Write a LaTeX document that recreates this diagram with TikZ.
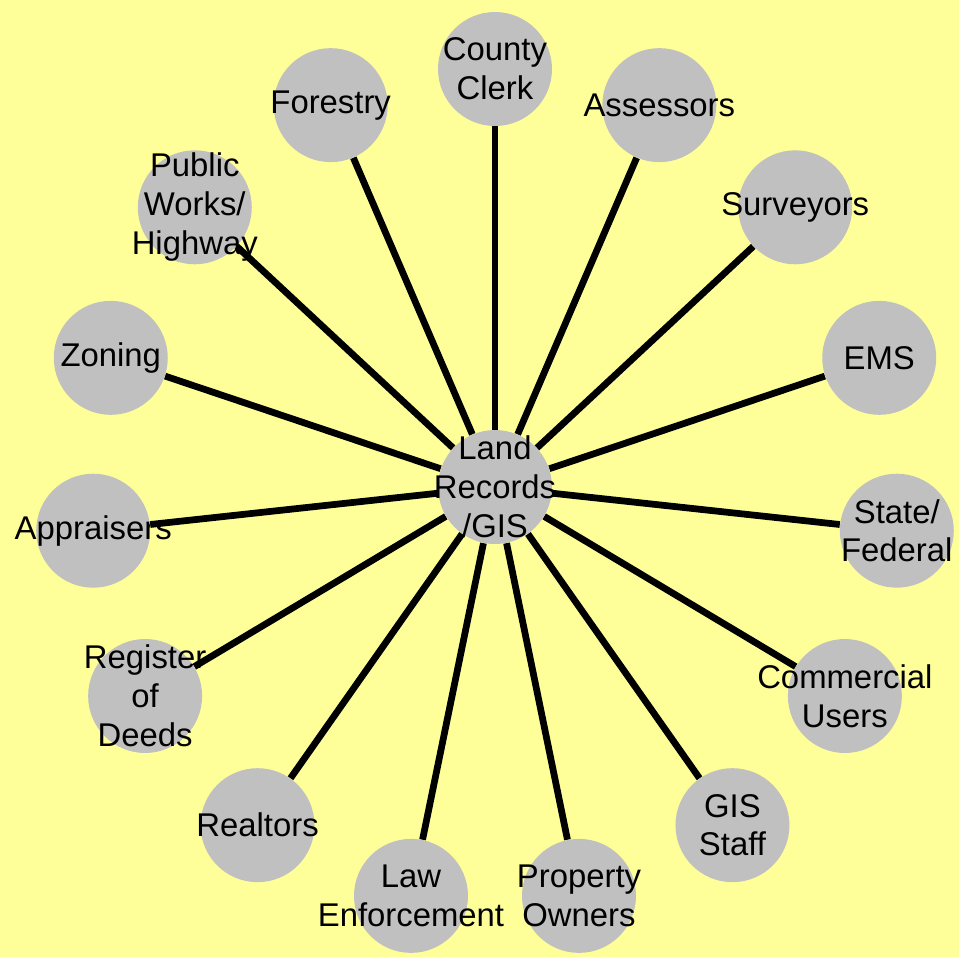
\documentclass[tikz,border=0pt]{standalone}
\usepackage{fontspec}
\setmainfont{Liberation Sans}
\usepackage{xcolor}
\definecolor{paperyellow}{HTML}{FFFF99}
\definecolor{discgray}{HTML}{C0C0C0}
\pgfdeclarelayer{back}
\pgfsetlayers{back,main}
\begin{document}
\begin{tikzpicture}[x=0.02cm, y=-0.02cm,
	disc/.style={circle, fill=discgray, inner sep=0pt, minimum size=2.28cm},
	tag/.style={align=center, inner sep=0pt, font=\fontsize{18.7}{22.1}\selectfont},
	spoke/.style={line width=0.135cm}]
	\begin{pgfonlayer}{back}
		\fill[paperyellow] (0,0) rectangle (959,957);
	\end{pgfonlayer}
	\node[disc] (gis) at (495,487) {};
	\node[tag] (gistxt) at (gis) {Land\\Records\\/GIS};
	\foreach \name/\ang/\txt in {
		clerk/90/{County\\Clerk},
		assessors/66/{Assessors},
		surveyors/42/{Surveyors},
		ems/18/{EMS},
		state/-6/{State/\\Federal},
		commercial/-30/{Commercial\\Users},
		staff/-54/{GIS\\Staff},
		owners/-78/{Property\\Owners},
		law/-102/{Law\\Enforcement},
		realtors/-126/{Realtors},
		deeds/-150/{Register\\of\\Deeds},
		appraisers/-174/{Appraisers},
		zoning/162/{Zoning},
		works/138/{Public\\Works/\\Highway},
		forestry/114/{Forestry}}{
		\node[disc] (\name) at ({495+404*cos(\ang)},{487-418*sin(\ang)}) {};
		\node[tag] (\name txt) at (\name) {\txt};
		\begin{pgfonlayer}{back}
			\draw[spoke] (gis) -- (\name);
		\end{pgfonlayer}
	}
\end{tikzpicture}
\end{document}
